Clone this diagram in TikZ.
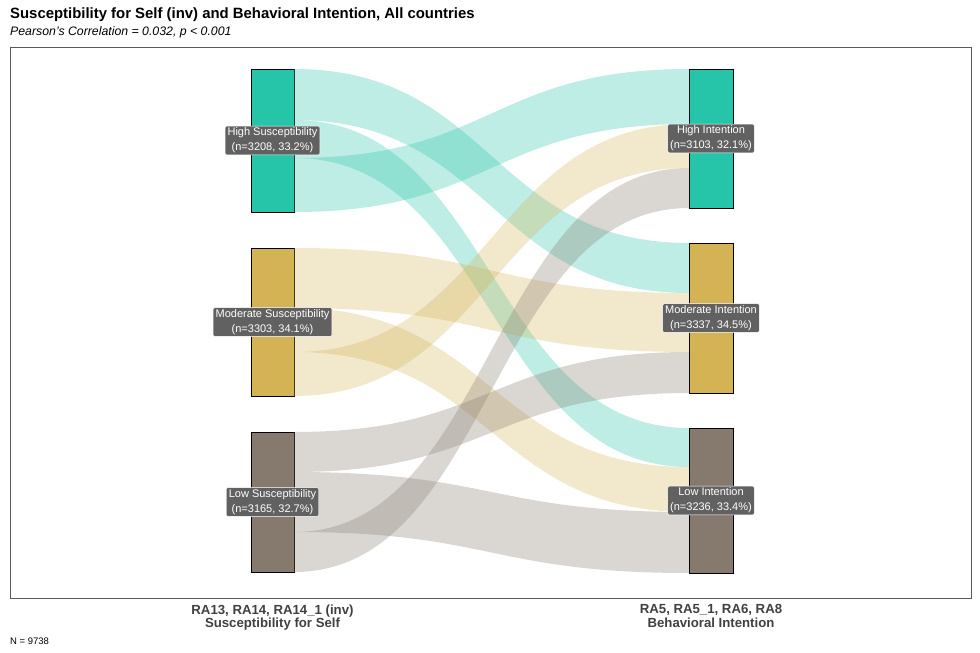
\documentclass[tikz,border=0pt]{standalone}
\usepackage{fontspec}
\setmainfont{Liberation Sans}
\usetikzlibrary{calc}
\definecolor{hiC}{RGB}{38,196,168}
\definecolor{modC}{RGB}{212,179,84}
\definecolor{lowC}{RGB}{134,122,110}
\definecolor{labC}{RGB}{97,97,97}
\newcommand{\flow}[7]{\fill[#1,fill opacity=0.3] (#2.east |- 0,#3) .. controls +(197.5,0) and +(-197.5,0) .. (#5.west |- 0,#6) -- (#5.west |- 0,#7) .. controls +(-197.5,0) and +(197.5,0) .. (#2.east |- 0,#4) -- cycle;}

\begin{document}
\begin{tikzpicture}[x=1pt,y=-1pt,
    bar/.style={draw=black,line width=0.8pt,outer sep=0pt,inner sep=0pt,minimum width=43},
    lab/.style={fill=labC,text=white,draw=white,line width=0.4pt,rounded corners=1.5pt,align=center,inner xsep=2.5pt,inner ysep=1.8pt,font=\fontsize{11}{15}\selectfont},
    axlab/.style={align=center,text=black!75,inner sep=0pt,font=\bfseries\fontsize{13.2}{13.2}\selectfont}]
  \useasboundingbox (0,0) rectangle (980,653);
  \node[anchor=base west,inner sep=0pt,font=\bfseries\fontsize{14.9}{17}\selectfont] (title) at (10,18) {Susceptibility for Self (inv) and Behavioral Intention, All countries};
  \node[anchor=base west,inner sep=0pt,font=\itshape\fontsize{12.3}{14}\selectfont] (subtitle) at (10,35.5) {Pearson's Correlation = 0.032, p < 0.001};
  \draw[black!65,line width=0.6pt] (10,47) rectangle (971,598);
  \node[bar,fill=hiC,minimum height=143] (sH) at (272.5,140.5) {};
  \node[bar,fill=modC,minimum height=148] (sM) at (272.5,322) {};
  \node[bar,fill=lowC,minimum height=140] (sL) at (272.5,502) {};
  \node[bar,fill=hiC,minimum height=139,minimum width=44] (iH) at (711,138.5) {};
  \node[bar,fill=modC,minimum height=150,minimum width=44] (iM) at (711,318) {};
  \node[bar,fill=lowC,minimum height=145,minimum width=44] (iL) at (711,500.5) {};
  \flow{hiC}{sH}{69}{120}{iM}{243}{293}
  \flow{hiC}{sH}{120}{158}{iL}{428}{467}
  \flow{hiC}{sH}{158}{212}{iH}{69}{124}
  \flow{modC}{sM}{248}{308}{iM}{293}{352}
  \flow{modC}{sM}{308}{352}{iL}{467}{512}
  \flow{modC}{sM}{352}{396}{iH}{124}{168}
  \flow{lowC}{sL}{432}{472}{iM}{352}{393}
  \flow{lowC}{sL}{472}{532}{iL}{512}{573}
  \flow{lowC}{sL}{532}{572}{iH}{168}{208}
  \node[lab] (lsH) at (sH) {High Susceptibility\\(n=3208, 33.2\%)};
  \node[lab] (lsM) at (sM) {Moderate Susceptibility\\(n=3303, 34.1\%)};
  \node[lab] (lsL) at (sL) {Low Susceptibility\\(n=3165, 32.7\%)};
  \node[lab] (liH) at (iH) {High Intention\\(n=3103, 32.1\%)};
  \node[lab] (liM) at (iM) {Moderate Intention\\(n=3337, 34.5\%)};
  \node[lab] (liL) at (iL) {Low Intention\\(n=3236, 33.4\%)};
  \node[axlab,anchor=north] (xs) at (272.5,604.5) {RA13, RA14, RA14\_1 (inv)\\Susceptibility for Self};
  \node[axlab,anchor=north] (xi) at (711,604.5) {RA5, RA5\_1, RA6, RA8\\Behavioral Intention};
  \node[anchor=base west,inner sep=0pt,font=\fontsize{9.5}{11}\selectfont] (nn) at (10,644) {N = 9738};
\end{tikzpicture}
\end{document}
